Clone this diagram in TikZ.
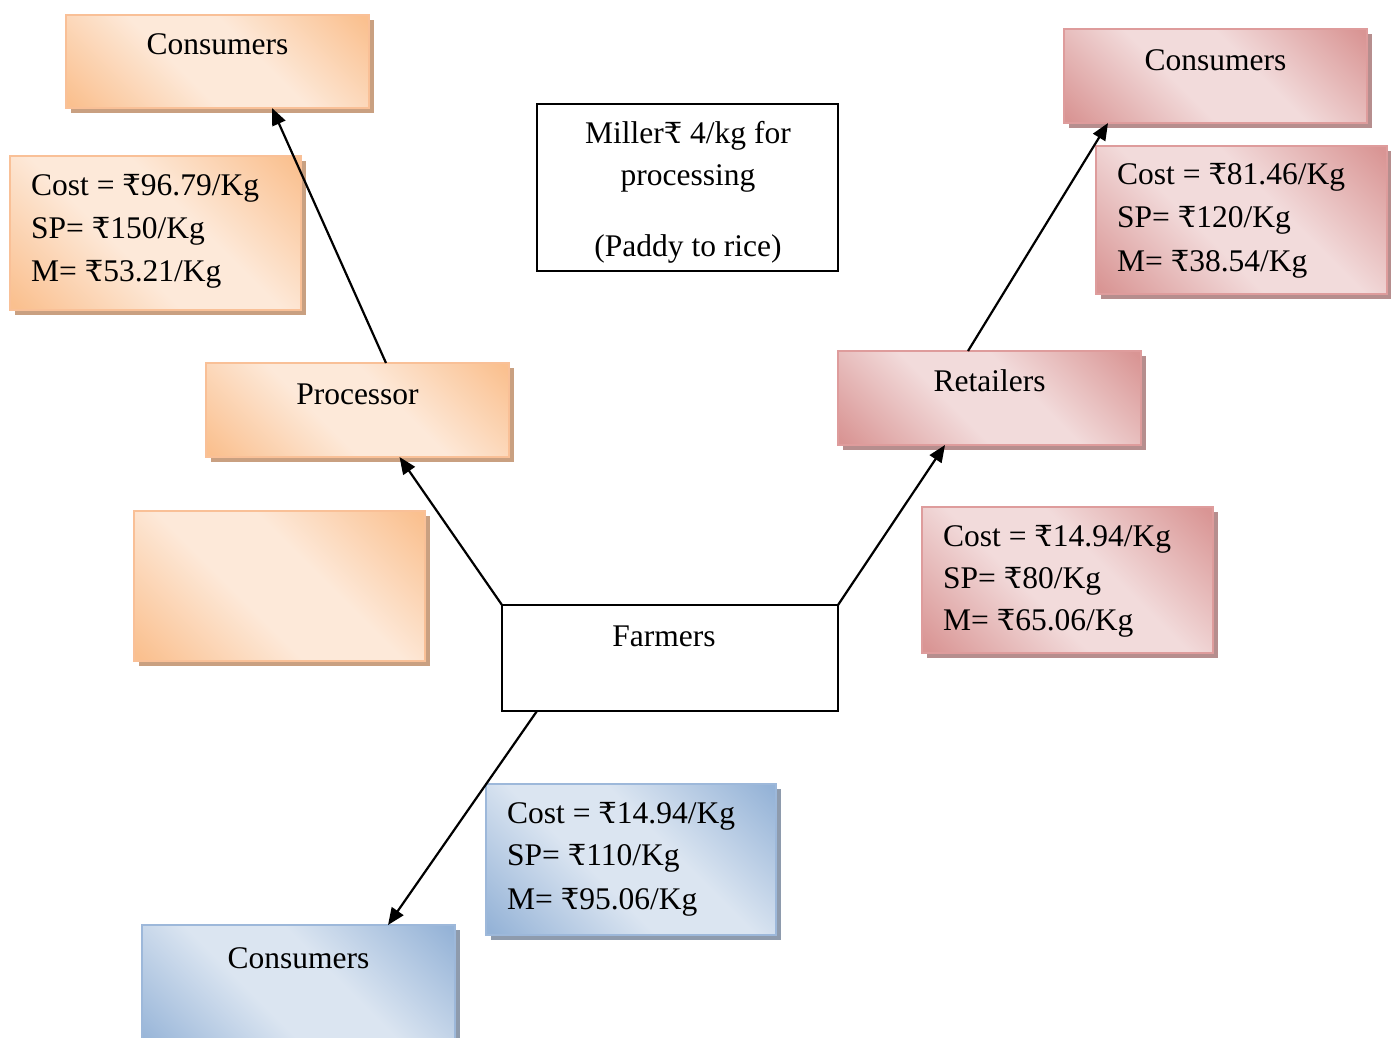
\documentclass[tikz,border=0pt]{standalone}
\usepackage{fontspec}
\setmainfont{Liberation Serif}
\newfontfamily\rupeefont{DejaVu Serif}
\usetikzlibrary{arrows.meta,calc,shadows}

% rupee sign, taken from a family that carries it
\newcommand\rs{{\rupeefont\fontsize{29}{43}\selectfont ₹}}

% palette
\definecolor{odark}{HTML}{FAC08F}
\definecolor{olight}{HTML}{FDE9D9}
\definecolor{oedge}{HTML}{F9C097}
\definecolor{oshade}{HTML}{C9A081}
\definecolor{pdark}{HTML}{D99594}
\definecolor{plight}{HTML}{F2DBDB}
\definecolor{pedge}{HTML}{DE9C9C}
\definecolor{pshade}{HTML}{B68E8E}
\definecolor{bdark}{HTML}{95B3D7}
\definecolor{blight}{HTML}{DBE5F1}
\definecolor{bedge}{HTML}{9DB8DA}
\definecolor{bshade}{HTML}{8E9BAD}

% diagonal glow: dark corners, light band across the middle
\pgfdeclarehorizontalshading{orangeglow}{100bp}{color(0bp)=(odark); color(16bp)=(odark); color(42bp)=(olight); color(58bp)=(olight); color(84bp)=(odark); color(100bp)=(odark)}
\pgfdeclarehorizontalshading{pinkglow}{100bp}{color(0bp)=(pdark); color(16bp)=(pdark); color(42bp)=(plight); color(58bp)=(plight); color(84bp)=(pdark); color(100bp)=(pdark)}
\pgfdeclarehorizontalshading{blueglow}{100bp}{color(0bp)=(bdark); color(16bp)=(bdark); color(42bp)=(blight); color(58bp)=(blight); color(84bp)=(bdark); color(100bp)=(bdark)}

\newcommand\labelfont{\fontsize{31.5}{43}\selectfont}

\tikzset{
  panel/.style={rectangle, anchor=north west, inner sep=0pt, outer sep=0pt, line width=2.2pt},
  orangebox/.style={panel, draw=oedge, shade, shading=orangeglow, shading angle=45,
    drop shadow={shadow xshift=5pt, shadow yshift=-5pt, fill=oshade, opacity=1}},
  pinkbox/.style={panel, draw=pedge, shade, shading=pinkglow, shading angle=45,
    drop shadow={shadow xshift=5pt, shadow yshift=-5pt, fill=pshade, opacity=1}},
  bluebox/.style={panel, draw=bedge, shade, shading=blueglow, shading angle=45,
    drop shadow={shadow xshift=5pt, shadow yshift=-5pt, fill=bshade, opacity=1}},
  plainbox/.style={panel, draw=black, fill=white, line width=1.5pt},
  txt/.style={inner sep=0pt, font=\labelfont, anchor=base},
  ltxt/.style={inner sep=0pt, font=\labelfont, anchor=base west},
  flow/.style={line width=2.2pt, -{Triangle[length=17pt,width=14pt]}},
}

\begin{document}
\begin{tikzpicture}[x=1pt, y=-1pt]
\useasboundingbox (0,0) rectangle (1391,1037);
\clip (0,0) rectangle (1391,1037);

% ---- orange branch (processing route) ----
\node[orangebox, minimum width=303pt, minimum height=93pt] (consA) at (66,15) {};
\node[txt] (consAt) at (217.5,54) {Consumers};

\node[orangebox, minimum width=291pt, minimum height=154pt] (costA) at (10,156) {};
\node[ltxt] (costA1) at (31,195) {Cost = \rs96.79/Kg};
\node[ltxt] (costA2) at (31,238) {SP= \rs150/Kg};
\node[ltxt] (costA3) at (31,281) {M= \rs53.21/Kg};

\node[orangebox, minimum width=303pt, minimum height=94pt] (proc) at (206,363) {};
\node[txt] (proct) at (357.5,404) {Processor};

\node[orangebox, minimum width=291pt, minimum height=150pt] (blank) at (134,511) {};

% ---- miller note ----
\node[plainbox, minimum width=301pt, minimum height=167pt] (mill) at (537,104) {};
\node[txt] (mill1) at (688,143) {Miller\rs\ 4/kg for};
\node[txt] (mill2) at (688,185) {processing};
\node[txt] (mill3) at (688,256) {(Paddy to rice)};

% ---- farmers ----
\node[plainbox, minimum width=336pt, minimum height=106pt] (farm) at (502,605) {};
\node[txt] (farmt) at (664,646) {Farmers};

% ---- pink branch (retail route) ----
\node[pinkbox, minimum width=303pt, minimum height=94pt] (ret) at (838,351) {};
\node[txt] (rett) at (989.5,391) {Retailers};

\node[pinkbox, minimum width=291pt, minimum height=146pt] (costB) at (922,507) {};
\node[ltxt] (costB1) at (943,546) {Cost = \rs14.94/Kg};
\node[ltxt] (costB2) at (943,588) {SP= \rs80/Kg};
\node[ltxt] (costB3) at (943,630) {M= \rs65.06/Kg};

\node[pinkbox, minimum width=303pt, minimum height=94pt] (consB) at (1064,29) {};
\node[txt] (consBt) at (1215.5,70) {Consumers};

\node[pinkbox, minimum width=291pt, minimum height=148pt] (costC) at (1096,146) {};
\node[ltxt] (costC1) at (1117,184) {Cost = \rs81.46/Kg};
\node[ltxt] (costC2) at (1117,227) {SP= \rs120/Kg};
\node[ltxt] (costC3) at (1117,271) {M= \rs38.54/Kg};

% ---- blue branch (direct sale) ----
\node[bluebox, minimum width=290pt, minimum height=151pt] (costD) at (486,784) {};
\node[ltxt] (costD1) at (507,823) {Cost = \rs14.94/Kg};
\node[ltxt] (costD2) at (507,865) {SP= \rs110/Kg};
\node[ltxt] (costD3) at (507,909) {M= \rs95.06/Kg};

\node[bluebox, minimum width=313pt, minimum height=130pt] (consC) at (142,925) {};
\node[txt] (consCt) at (298.5,968) {Consumers};

% ---- flows ----
\draw[flow] (farm.north west) -- ([xshift=42pt]proc.south);
\draw[flow] ([xshift=28.5pt]proc.north) -- ([xshift=54.5pt]consA.south);
\draw[flow] (farm.north east) -- ([xshift=-44.5pt]ret.south);
\draw[flow] ([xshift=-21.5pt]ret.north) -- ([xshift=-107.5pt]consB.south);
\draw[flow] ([xshift=-133pt]farm.south) -- ([xshift=89.5pt]consC.north);
\end{tikzpicture}
\end{document}
